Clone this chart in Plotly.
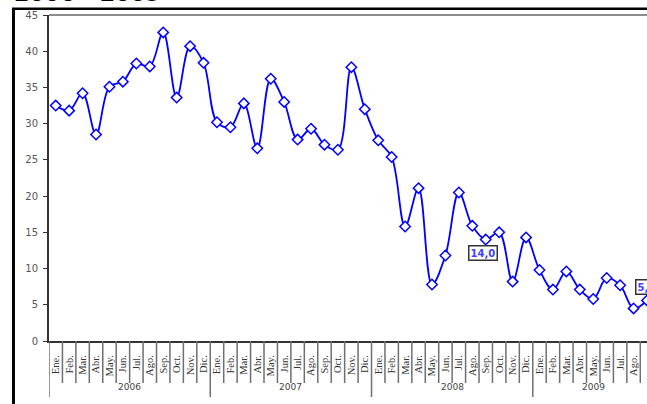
import plotly.graph_objects as go

# Monthly series, January 2006 - September 2009
months = ["Ene.", "Feb.", "Mar.", "Abr.", "May.", "Jun.",
          "Jul.", "Ago.", "Sep.", "Oct.", "Nov.", "Dic."]
years = ["2006", "2007", "2008", "2009"]
months_per_year = [12, 12, 12, 9]

values_2006 = [32.5, 31.8, 34.2, 28.5, 35.1, 35.8, 38.3, 37.9, 42.6, 33.6, 40.7, 38.4]
values_2007 = [30.2, 29.5, 32.8, 26.6, 36.2, 33.0, 27.8, 29.3, 27.1, 26.4, 37.8, 32.0]
values_2008 = [27.7, 25.4, 15.8, 21.1, 7.8, 11.8, 20.5, 15.9, 14.0, 15.0, 8.2, 14.3]
values_2009 = [9.8, 7.1, 9.6, 7.1, 5.8, 8.7, 7.7, 4.5, 5.6]

values = values_2006 + values_2007 + values_2008 + values_2009
tick_text = []
for n in months_per_year:
    tick_text += months[:n]
x = list(range(len(values)))

# points that carry a value label: (index, vertical offset px, horizontal offset px)
labelled = [(32, -13, -3), (44, 13, -1)]

fig = go.Figure()
fig.add_trace(go.Scatter(
    x=x, y=values, mode="lines+markers",
    line=dict(color="#0000ff", width=1.8, shape="spline", smoothing=1.0),
    marker=dict(symbol="diamond", size=8, color="white",
                line=dict(color="#0000ff", width=1.5)),
    cliponaxis=False, showlegend=False,
))

shapes = []
# separators between months, longer ones between years
start = 0
year_edges = [0]
for n in months_per_year:
    start += n
    year_edges.append(start)
for i in range(len(values) + 1):
    is_year = i in year_edges[:-1]
    shapes.append(dict(type="line", xref="x", yref="paper",
                       x0=i - 0.5, x1=i - 0.5, y0=0,
                       y1=-0.172 if is_year else -0.129,
                       line=dict(color="#6f6f6f", width=1.5)))
# plot area top border
shapes.append(dict(type="line", xref="paper", yref="paper",
                   x0=0, x1=1.02, y0=1, y1=1,
                   line=dict(color="#8c8c8c", width=2)))
# outer chart frame
shapes.append(dict(type="line", xref="paper", yref="paper",
                   x0=-0.0594, x1=-0.0594, y0=1.019, y1=-0.25,
                   line=dict(color="black", width=3)))
shapes.append(dict(type="line", xref="paper", yref="paper",
                   x0=-0.0619, x1=1.05, y0=1.019, y1=1.019,
                   line=dict(color="black", width=2.5)))

annotations = []
# year group labels
for k, yr in enumerate(years):
    center = (year_edges[k] + year_edges[k + 1] - 1) / 2
    annotations.append(dict(x=center, y=-0.14, xref="x", yref="paper",
                            text=yr, showarrow=False, yanchor="middle",
                            font=dict(family="DejaVu Sans", size=9, color="#444444")))
# value labels
for idx, dy, dx in labelled:
    annotations.append(dict(x=idx, y=values[idx], xref="x", yref="y",
                            text="<b>" + f"{values[idx]:.1f}".replace(".", ",") + "</b>",
                            showarrow=False, yshift=dy, xshift=dx,
                            bgcolor="white", bordercolor="#333333", borderwidth=1.5,
                            borderpad=1,
                            font=dict(family="DejaVu Sans", size=10, color="#4040ff")))
# title
annotations.append(dict(x=-0.062, y=1.023, xref="paper", yref="paper",
                        xanchor="left", yanchor="bottom", showarrow=False,
                        text="<b>2006 - 2009</b>",
                        font=dict(family="DejaVu Sans", size=22, color="black")))

fig.update_layout(
    width=647, height=404,
    margin=dict(l=49, r=0, t=15, b=63),
    paper_bgcolor="white", plot_bgcolor="white",
    shapes=shapes, annotations=annotations,
    xaxis=dict(range=[-0.5, len(values) - 1], tickvals=x, ticktext=tick_text,
               tickangle=-90, ticks="", showgrid=False, zeroline=False,
               showline=True, linecolor="#333333", linewidth=2,
               ticklabelstandoff=8,
               tickfont=dict(family="Liberation Serif", size=10.5, color="#333333")),
    yaxis=dict(range=[0, 45], tickvals=list(range(0, 46, 5)),
               ticks="outside", ticklen=4, tickcolor="#333333", tickwidth=1,
               showgrid=False, zeroline=False, ticklabelstandoff=3,
               showline=True, linecolor="#333333", linewidth=2,
               tickfont=dict(family="DejaVu Sans", size=10, color="#555555")),
)

fig.write_html("out.html")
